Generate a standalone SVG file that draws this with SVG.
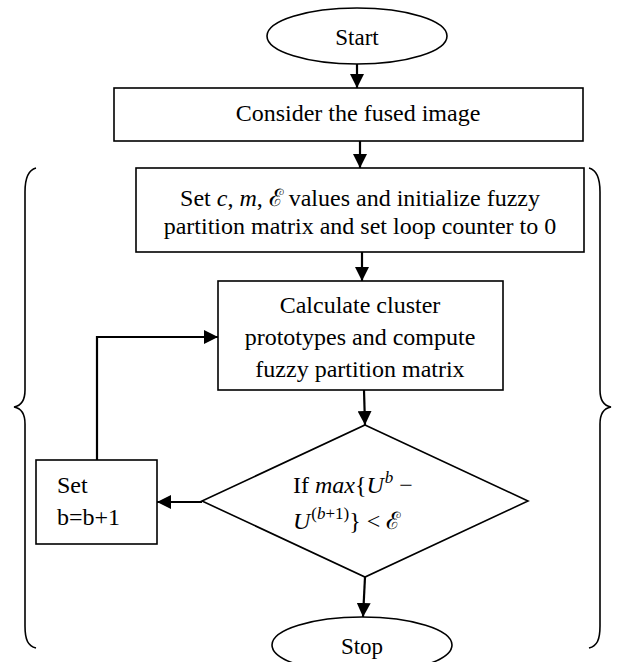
<svg xmlns="http://www.w3.org/2000/svg" width="620" height="662" viewBox="0 0 620 662">
<defs>
<marker id="ah" markerUnits="userSpaceOnUse" markerWidth="14" markerHeight="14" viewBox="0 0 14 14" refX="14" refY="7" orient="auto">
<path d="M0,0 L14,7 L0,14 z" fill="#000"/>
</marker>
<style>
.box{fill:#fff;stroke:#000;stroke-width:1.6}
.t{font-family:"Liberation Serif","Times New Roman",serif;font-size:24px;fill:#000}
.c{text-anchor:middle}
.i{font-style:italic}
.sup{font-size:17px}
.con{fill:none;stroke:#000;stroke-width:2.2}
.br{fill:none;stroke:#000;stroke-width:1.6}
</style>
</defs>
<rect width="620" height="662" fill="#fff"/>
<g id="braces">
<path class="br" d="M36,168 C28,170 25,178 25,192 L25,390 C25,402 20,406 14,407 C20,408 25,412 25,424 L25,626 C25,640 28,646 36,648"/>
<path class="br" d="M589,168 C597,170 600,178 600,192 L600,390 C600,402 605,406 611,407 C605,408 600,412 600,424 L600,626 C600,640 597,646 589,648"/>
</g>
<g id="connectors">
<line class="con" x1="357" y1="64" x2="357" y2="88" marker-end="url(#ah)"/>
<line class="con" x1="360" y1="141" x2="360" y2="168" marker-end="url(#ah)"/>
<line class="con" x1="362" y1="252" x2="362" y2="281" marker-end="url(#ah)"/>
<line class="con" x1="364" y1="390" x2="365" y2="425" marker-end="url(#ah)"/>
<line class="con" x1="202" y1="502" x2="157" y2="502" marker-end="url(#ah)"/>
<polyline class="con" points="97,460 97,337 218,337" marker-end="url(#ah)"/>
<line class="con" x1="365" y1="577" x2="363" y2="617" marker-end="url(#ah)"/>
</g>
<g id="start">
<ellipse class="box" cx="357" cy="36" rx="90" ry="28"/>
<text class="t c" x="357" y="45" style="font-size:23px">Start</text>
</g>
<g id="consider">
<rect class="box" x="114" y="88" width="469" height="53"/>
<text class="t c" x="358" y="121">Consider the fused image</text>
</g>
<g id="init">
<rect class="box" x="136" y="168" width="448" height="84"/>
<text class="t c" x="360" y="206">Set <tspan class="i">c</tspan>, <tspan class="i">m</tspan>, ℰ values and initialize fuzzy</text>
<text class="t c" x="360" y="234">partition matrix and set loop counter to 0</text>
</g>
<g id="calc">
<rect class="box" x="218" y="281" width="285" height="109"/>
<text class="t c" x="360" y="313">Calculate cluster</text>
<text class="t c" x="360" y="345">prototypes and compute</text>
<text class="t c" x="360" y="377">fuzzy partition matrix</text>
</g>
<g id="decision">
<polygon class="box" points="365,425 528,501 365,577 202,501"/>
<text class="t" x="293" y="493">If <tspan class="i">max</tspan>{<tspan class="i">U</tspan><tspan class="i sup" dx="1" dy="-10">b</tspan><tspan dy="10">  −</tspan></text>
<text class="t" x="293" y="529"><tspan class="i">U</tspan><tspan class="sup" dx="1" dy="-10">(<tspan class="i">b</tspan>+1)</tspan><tspan dy="10">} &lt; ℰ</tspan></text>
</g>
<g id="increment">
<rect class="box" x="36" y="460" width="121" height="84"/>
<text class="t" x="57" y="493">Set</text>
<text class="t" x="57" y="525">b=b+1</text>
</g>
<g id="stop">
<ellipse class="box" cx="362" cy="645" rx="90" ry="28"/>
<text class="t c" x="362" y="654" style="font-size:23px">Stop</text>
</g>
</svg>
